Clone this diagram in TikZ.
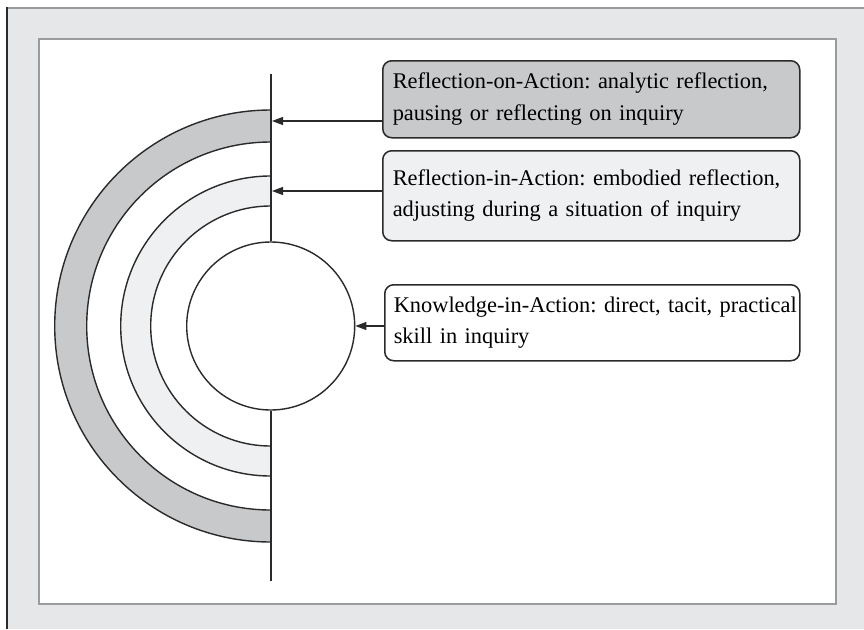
\documentclass[tikz,border=0pt]{standalone}
\usepackage{fontspec}
\setmainfont{Liberation Serif}
\usetikzlibrary{arrows.meta,calc}
\frenchspacing
\definecolor{bggray}{HTML}{E6E7E9}
\definecolor{framegray}{HTML}{9A9B9D}
\definecolor{bandgray}{HTML}{C8C9CB}
\definecolor{bandlight}{HTML}{EFF0F2}
\definecolor{ink}{HTML}{2A2A2A}
\begin{document}
\hyphenpenalty=10000\relax
\begin{tikzpicture}[x=1pt,y=-1pt,
  box/.style={draw=ink, line width=1.5pt, rounded corners=9pt, inner xsep=10pt, inner ysep=0pt,
    align=left, font=\fontsize{22.4}{31.5}\selectfont, anchor=north west},
  arr/.style={draw=ink, line width=1.1pt, -{Triangle[length=11pt,width=8pt]}},
  ring/.style={draw=ink, line width=1.4pt},
  axis/.style={draw=ink, line width=2.2pt}]
\useasboundingbox (0,0) rectangle (864,629);
% outer background and frame
\fill[bggray] (7,7) rectangle (864,629);
\draw[framegray, line width=2pt] (7,8) -- (864,8);
\draw[ink, line width=2pt] (7,7) -- (7,629);
\draw[framegray, line width=2.5pt, fill=white] (39,39) rectangle (836,604);
% half rings
\begin{scope}
  \clip (0,0) rectangle (270.7,629);
  \fill[bandgray] (270.7,326) circle (216);
  \fill[white] (270.7,326) circle (184);
  \fill[bandlight] (270.7,326) circle (150);
  \fill[white] (270.7,326) circle (120);
  \foreach \r in {216,184,150,120} \draw[ring] (270.7,326) circle (\r);
\end{scope}
% core circle
\node[ring, fill=white, circle, minimum size=168pt, inner sep=0pt] (core) at (270.7,326) {};
% axis
\coordinate (ltop) at (270.7,74);
\coordinate (lbot) at (270.7,581);
\draw[axis] (ltop) -- (core.north);
\draw[axis] (core.south) -- (lbot);
% boxes
\node[box, fill=bandgray, text width=397pt, minimum height=77pt] (box1) at (382,60)
  {\mbox{Reflection-on-Action: analytic reflection,}\\\mbox{pausing or reflecting on inquiry}};
\node[box, fill=bandlight, text width=397pt, minimum height=90pt] (box2) at (382,150)
  {\mbox{Reflection-in-Action: embodied reflection,}\\\mbox{adjusting during a situation of inquiry}};
\node[box, fill=white, text width=397pt, inner xsep=9pt, minimum height=76pt] (box3) at (384,284)
  {\mbox{Knowledge-in-Action: direct, tacit, practical}\\\mbox{skill in inquiry}};
% arrows
\coordinate (a1) at (272,121);
\coordinate (a2) at (272,191);
\draw[arr] (box1.west |- a1) -- (a1);
\draw[arr] (box2.west |- a2) -- (a2);
\draw[arr] (box3.west |- core.east) -- (core.east);
\end{tikzpicture}
\end{document}
